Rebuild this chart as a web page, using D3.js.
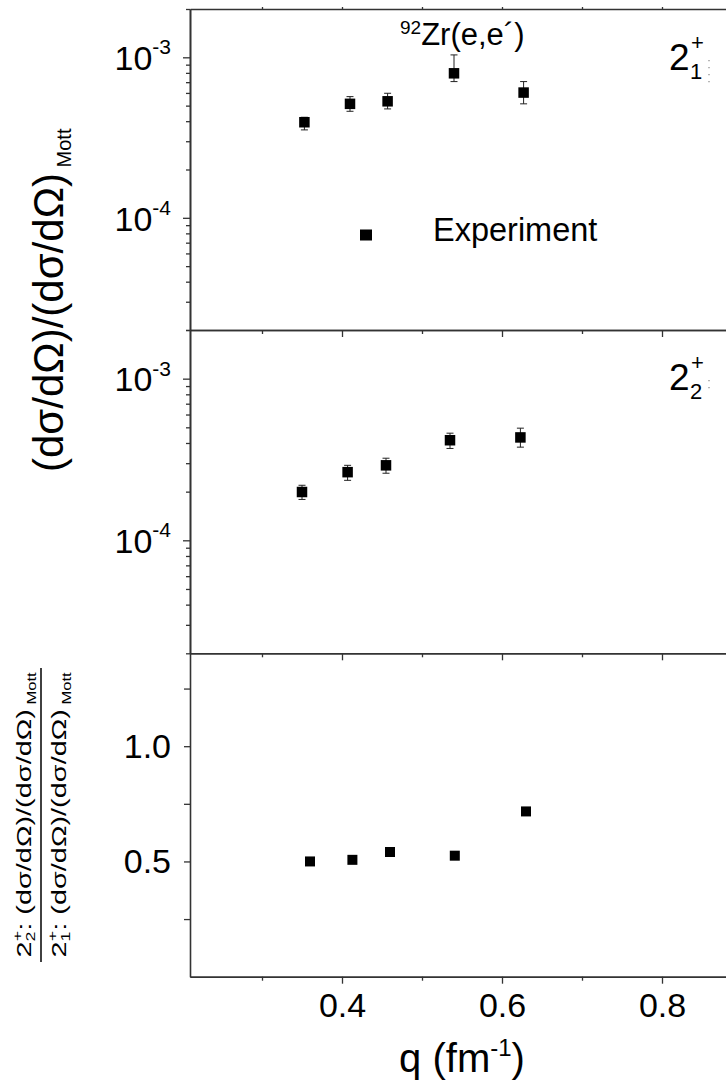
<!DOCTYPE html>
<html>
<head>
<meta charset="utf-8">
<script src="https://cdn.jsdelivr.net/npm/d3@7"></script>
<style>
  body { margin: 0; background: #fff; }
  text { font-family: "Liberation Sans", Arial, sans-serif; fill: #000; }
</style>
</head>
<body>
<div id="chart"></div>
<script>
// 92Zr(e,e') 2+1 state
const qTop = [0.353, 0.410, 0.457, 0.540, 0.627];
const sigTop = [3.94e-4, 5.13e-4, 5.32e-4, 7.95e-4, 6.03e-4];
const sigTopHi = [4.23e-4, 5.69e-4, 5.97e-4, 1.035e-3, 7.06e-4];
const sigTopLo = [3.53e-4, 4.61e-4, 4.77e-4, 7.06e-4, 5.13e-4];

// 2+2 state
const qMid = [0.350, 0.407, 0.455, 0.535, 0.623];
const sigMid = [1.99e-4, 2.64e-4, 2.91e-4, 4.16e-4, 4.33e-4];
const sigMidHi = [2.19e-4, 2.91e-4, 3.22e-4, 4.60e-4, 4.94e-4];
const sigMidLo = [1.79e-4, 2.35e-4, 2.60e-4, 3.70e-4, 3.77e-4];

// ratio 2+2 / 2+1
const qRatio = [0.360, 0.413, 0.460, 0.541, 0.630];
const ratio = [0.500, 0.507, 0.541, 0.525, 0.717];

const xMajor = [0.4, 0.6, 0.8];
const xMinor = [0.3, 0.5, 0.7, 0.9];
const logMajor = [1e-4, 1e-3];
const logExp = {"0.0001": "-4", "0.001": "-3"};
const ratioTicks = [0.25, 0.5, 0.75, 1.0, 1.25];
const ratioLabels = [0.5, 1.0];

const width = 726, height = 1085;
const left = 190;
const panels = {top: [9, 330], mid: [330, 653.3], bot: [653.3, 976.7]};
const axisColor = "#333";

const svg = d3.select("#chart").append("svg")
  .attr("width", width)
  .attr("height", height);

const x = d3.scaleLinear().domain([0.21, 0.9]).range([left, left + 0.69 * 800]);

const yTop = d3.scaleLog().domain([2e-5, 2e-3]).range([panels.top[1], panels.top[0]]);
const yMid = d3.scaleLog().domain([2e-5, 2e-3]).range([panels.mid[1], panels.mid[0]]);
const yBot = d3.scaleLinear().domain([0, 1.403]).range([panels.bot[1], panels.bot[0]]);

function styleAxis(g) {
  g.select(".domain").attr("stroke", axisColor).attr("stroke-width", 1.6);
  g.selectAll(".tick line").attr("stroke", axisColor).attr("stroke-width", 1.3);
}

// x axes at bottom of each panel, ticks pointing down
[panels.top[1], panels.mid[1], panels.bot[1]].forEach(function(yb, i) {
  svg.append("g")
    .attr("transform", `translate(0,${yb})`)
    .call(d3.axisBottom(x).tickValues(xMinor).tickSize(4).tickSizeOuter(0).tickFormat(""))
    .call(styleAxis);
  const g = svg.append("g")
    .attr("transform", `translate(0,${yb})`)
    .call(d3.axisBottom(x).tickValues(xMajor).tickSize(7).tickSizeOuter(0)
      .tickPadding(9).tickFormat(i === 2 ? d3.format(".1f") : ""))
    .call(styleAxis);
  g.selectAll("text").attr("font-size", 34).attr("fill", "#000");
});

// top border
svg.append("g")
  .attr("transform", `translate(0,${panels.top[0]})`)
  .call(d3.axisTop(x).tickValues(xMajor.concat(xMinor)).tickSize(2).tickSizeOuter(0).tickFormat(""))
  .call(styleAxis);

// log y axes
[yTop, yMid].forEach(function(y) {
  svg.append("g")
    .attr("transform", `translate(${left},0)`)
    .call(d3.axisLeft(y).tickValues(y.ticks().filter(t => logMajor.indexOf(t) < 0))
      .tickSize(4).tickSizeOuter(0).tickFormat(""))
    .call(styleAxis);
  const g = svg.append("g")
    .attr("transform", `translate(${left},0)`)
    .call(d3.axisLeft(y).tickValues(logMajor).tickSize(7).tickSizeOuter(0).tickPadding(12))
    .call(styleAxis);
  g.selectAll(".tick text").each(function(d) {
    const t = d3.select(this).text("").attr("font-size", 34).attr("dy", "0.36em");
    t.append("tspan").text("10");
    t.append("tspan").attr("font-size", 21).attr("dy", "-0.75em").text(logExp[String(d)]);
  });
});

// linear ratio axis
const gb = svg.append("g")
  .attr("transform", `translate(${left},0)`)
  .call(d3.axisLeft(yBot).tickValues(ratioTicks).tickSize(6).tickSizeOuter(0).tickPadding(13)
    .tickFormat(d => ratioLabels.indexOf(d) >= 0 ? d3.format(".1f")(d) : ""))
  .call(styleAxis);
gb.selectAll("text").attr("font-size", 34).attr("fill", "#000");

// error bars and squares
function drawSeries(qs, vals, his, los, y, size) {
  const g = svg.append("g");
  if (his) {
    qs.forEach(function(q, i) {
      const cx = x(q);
      g.append("line").attr("x1", cx).attr("x2", cx)
        .attr("y1", y(his[i])).attr("y2", y(los[i]))
        .attr("stroke", "#222").attr("stroke-width", 1);
      [his[i], los[i]].forEach(function(v) {
        g.append("line").attr("x1", cx - 3.5).attr("x2", cx + 3.5)
          .attr("y1", y(v)).attr("y2", y(v))
          .attr("stroke", "#222").attr("stroke-width", 1);
      });
    });
  }
  g.selectAll("rect").data(qs).join("rect")
    .attr("x", d => x(d) - size / 2)
    .attr("y", (d, i) => y(vals[i]) - size / 2)
    .attr("width", size).attr("height", size)
    .attr("fill", "#000");
}
drawSeries(qTop, sigTop, sigTopHi, sigTopLo, yTop, 10.5);
drawSeries(qMid, sigMid, sigMidHi, sigMidLo, yMid, 10.5);
drawSeries(qRatio, ratio, null, null, yBot, 10);

// title
const title = svg.append("text").attr("x", 400).attr("y", 45).attr("font-size", 31);
title.append("tspan").attr("font-size", 19).attr("dy", -11).text("92");
title.append("tspan").attr("dy", 11).text("Zr(e,e\u00b4)");

// legend
svg.append("rect").attr("x", 360).attr("y", 229.5).attr("width", 12).attr("height", 11).attr("fill", "#000");
svg.append("text").attr("x", 433).attr("y", 241).attr("font-size", 32.5).text("Experiment");

// panel state labels
function stateLabel(yBase, sub, dots) {
  svg.append("text").attr("x", 669).attr("y", yBase).attr("font-size", 37).text("2");
  svg.append("text").attr("x", 690).attr("y", yBase + 9).attr("font-size", 22).text(sub);
  svg.append("text").attr("x", 691).attr("y", yBase - 20).attr("font-size", 22).text("+");
  svg.append("line").attr("x1", 709).attr("x2", 709)
    .attr("y1", yBase - 10).attr("y2", yBase - 10 + dots * 7)
    .attr("stroke", "#888").attr("stroke-width", 1.2).attr("stroke-dasharray", "1.2,5.8");
}
stateLabel(70, "1", 4);
stateLabel(390, "2", 2);

// x axis title
const xt = svg.append("text").attr("x", 462).attr("y", 1072).attr("font-size", 40)
  .attr("text-anchor", "middle");
xt.append("tspan").text("q (fm");
xt.append("tspan").attr("font-size", 24).attr("dy", -16).text("-1");
xt.append("tspan").attr("dy", 16).text(")");

// y axis title for the cross-section panels
const yt = svg.append("text")
  .attr("transform", "translate(63,472) rotate(-90)")
  .attr("font-size", 42);
yt.append("tspan").text("(d\u03c3/d\u03a9)/(d\u03c3/d\u03a9)");
yt.append("tspan").attr("font-size", 20).attr("dy", 8).text(" Mott");

// ratio axis title (fraction)
const frac = svg.append("g").attr("transform", "translate(41,815) rotate(-90)");
function fracLine(yOff, sub) {
  const t = frac.append("text").attr("y", yOff).attr("font-size", 21).attr("text-anchor", "middle");
  t.append("tspan").text("2");
  t.append("tspan").attr("font-size", 13).attr("dy", 4).text(sub);
  t.append("tspan").attr("font-size", 13).attr("dx", -7).attr("dy", -13).text("+");
  t.append("tspan").attr("dy", 9).text(": (d\u03c3/d\u03a9)/(d\u03c3/d\u03a9)");
  t.append("tspan").attr("font-size", 12).attr("dy", 5).text(" Mott");
  const len = t.node().getComputedTextLength();
  t.attr("transform", `scale(${295 / len},1)`);
}
fracLine(-10, "2");
fracLine(25, "1");
frac.append("line").attr("x1", -147).attr("x2", 147).attr("y1", 0).attr("y2", 0)
  .attr("stroke", "#111").attr("stroke-width", 1.6);
</script>
</body>
</html>
